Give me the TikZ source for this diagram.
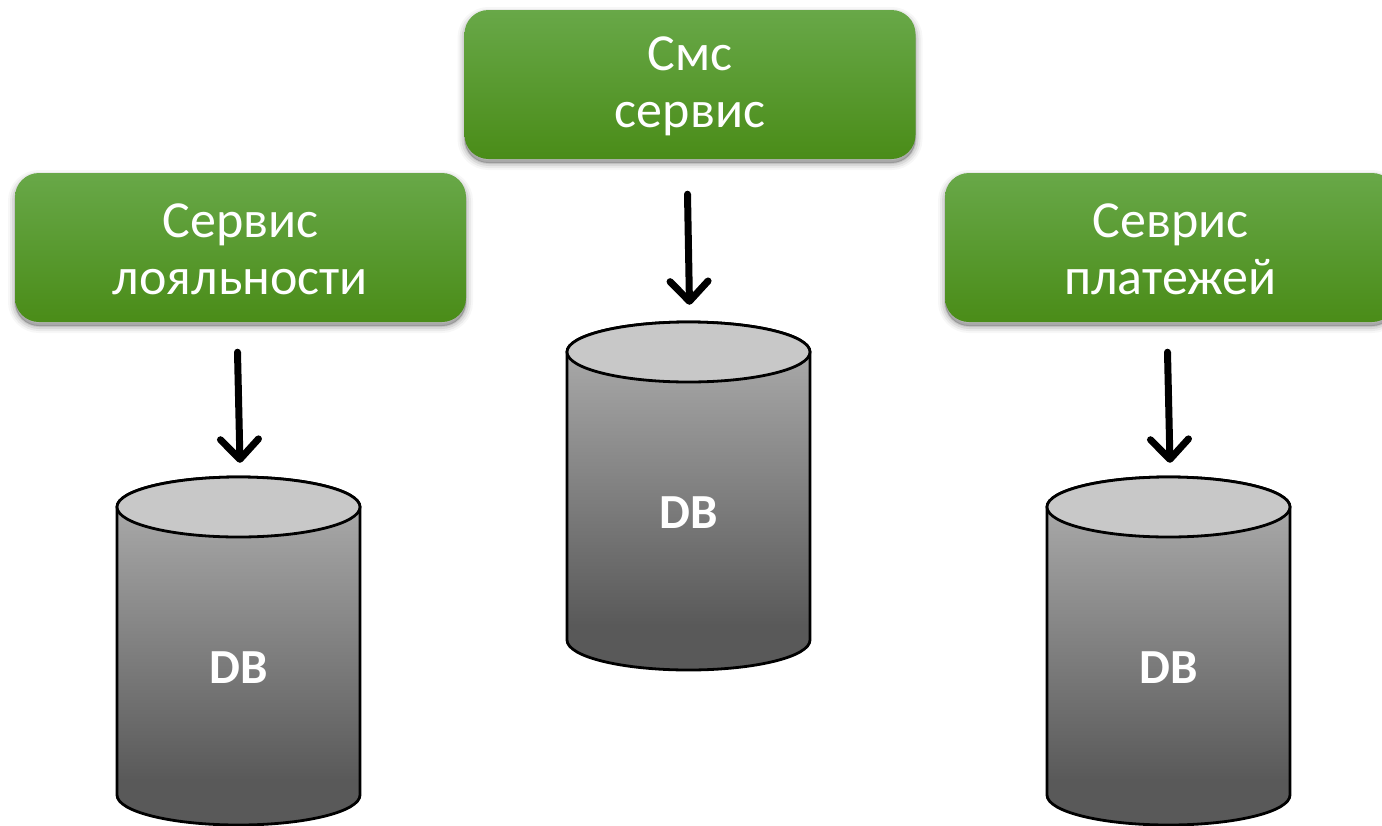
\documentclass[tikz,border=0pt]{standalone}
\usepackage{fontspec}
\setmainfont{Carlito}
\usetikzlibrary{arrows.meta}
\definecolor{gtop}{HTML}{68A848}
\definecolor{gbot}{HTML}{4A8C18}
\definecolor{captop}{HTML}{C8C8C8}
\pgfdeclareverticalshading{dbshade}{100bp}{
  color(0bp)=(white!35!black);
  color(31.5bp)=(white!35!black);
  color(70.7bp)=(white!66!black);
  color(100bp)=(white!66!black)}
\newcommand{\svcstrut}{\rule{0pt}{38pt}}
\tikzset{
  svc/.style={rectangle,rounded corners=24pt,minimum width=451pt,minimum height=149pt,
    inner sep=0pt,top color=gtop,bottom color=gbot,text=white,align=center,
    font=\fontsize{52}{57}\selectfont,
    preaction={draw=black,line width=14pt,opacity=.03,fill=black,transform canvas={yshift=-4pt}},
    preaction={draw=black,line width=10pt,opacity=.05,fill=black,transform canvas={yshift=-4pt}},
    preaction={draw=black,line width=6pt,opacity=.07,fill=black,transform canvas={yshift=-4pt}},
    preaction={draw=black,line width=2pt,opacity=.09,fill=black,transform canvas={yshift=-4pt}}},
  dbnode/.style={rectangle,minimum width=243pt,minimum height=348pt,inner sep=0pt},
  dbbody/.style={draw=black,line width=2.8pt,shading=dbshade},
  dbcap/.style={draw=black,line width=2.8pt,fill=captop},
  dbtext/.style={text=white,font=\fontsize{49}{49}\selectfont\bfseries,inner sep=0pt},
  link/.style={line width=7pt,line cap=round,black,-{Straight Barb[round,length=20pt,width=38pt,line width=7pt]}}
}
\newcommand{\dbcyl}[3]{%
  \node[dbnode] (#1) at (#2,#3+174) {};
  \path[dbbody] (#2-121.5,#3+30) -- (#2-121.5,#3+318)
     arc[start angle=180,end angle=360,x radius=121.5,y radius=-30]
     -- (#2+121.5,#3+30)
     arc[start angle=0,end angle=180,x radius=121.5,y radius=-30] -- cycle;
  \path[dbcap] (#2,#3+30) ellipse[x radius=121.5,y radius=30];
  \node[dbtext] (#1-label) at (#2,#3+191) {DB};
}
\begin{document}
\begin{tikzpicture}[x=1pt,y=-1pt]
\clip (0,0) rectangle (1382,825);
\node[svc] (a) at (240.5,247.5) {\svcstrut Сервис\\лояльности};
\node[svc] (b) at (690,84.5) {\svcstrut Смс\\сервис};
\node[svc] (c) at (1170.5,247.5) {\svcstrut Севрис\\платежей};
\dbcyl{da}{238.5}{477}
\dbcyl{db}{688.5}{322}
\dbcyl{dc}{1168.5}{477}
\draw[link] ([xshift=-3pt,yshift=-30pt]a.south) -- ([xshift=1.5pt,yshift=14pt]da.north);
\draw[link] ([xshift=-2.5pt,yshift=-35pt]b.south) -- ([xshift=1pt,yshift=17pt]db.north);
\draw[link] ([xshift=-3pt,yshift=-30pt]c.south) -- ([xshift=1.5pt,yshift=14pt]dc.north);
\end{tikzpicture}
\end{document}
